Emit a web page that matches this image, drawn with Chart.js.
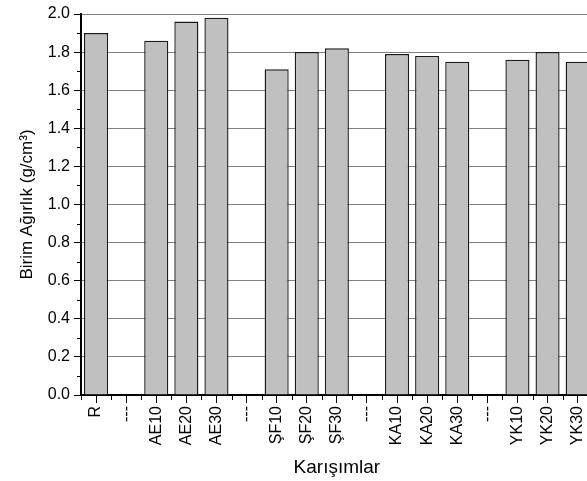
<!DOCTYPE html>
<html>
<head>
<meta charset="utf-8">
<script src="https://cdn.jsdelivr.net/npm/chart.js@4.4.1/dist/chart.umd.min.js"></script>
<style>
  body { margin: 0; overflow: hidden; background: #fff; }
  #caja { width: 587px; height: 481px; overflow: hidden; }
</style>
</head>
<body>
<div id="caja"><canvas id="barChart" width="600" height="481"></canvas></div>
<script>
const categorias = ['R', '---', 'AE10', 'AE20', 'AE30', '---', 'ŞF10', 'ŞF20', 'ŞF30', '---', 'KA10', 'KA20', 'KA30', '---', 'YK10', 'YK20', 'YK30'];
const valores = [1.90, null, 1.86, 1.96, 1.98, null, 1.71, 1.80, 1.82, null, 1.79, 1.78, 1.75, null, 1.76, 1.80, 1.75];
const ticksY = [0.0, 0.2, 0.4, 0.6, 0.8, 1.0, 1.2, 1.4, 1.6, 1.8, 2.0];

const fuente = "Arial, 'Liberation Sans', sans-serif";

// marcas menores de los ejes
const marcasMenores = {
    id: 'marcasMenores',
    afterDraw(chart) {
        const c = chart.ctx;
        const x = chart.scales.x;
        const y = chart.scales.y;
        c.save();
        c.strokeStyle = '#000';
        c.lineWidth = 1;
        c.beginPath();
        for (let i = 0; i < ticksY.length - 1; i++) {
            const py = Math.round(y.getPixelForValue((ticksY[i] + ticksY[i + 1]) / 2)) + 0.5;
            c.moveTo(x.left - 4, py);
            c.lineTo(x.left, py);
        }
        const paso = x.getPixelForValue(1) - x.getPixelForValue(0);
        for (let i = 0; i < categorias.length; i++) {
            const px = Math.round(x.getPixelForValue(i) - paso / 2) + 0.5;
            c.moveTo(px, y.bottom);
            c.lineTo(px, y.bottom + 5);
        }
        c.stroke();
        c.restore();
    }
};

const barChart = new Chart(document.getElementById('barChart').getContext('2d'), {
    type: 'bar',
    data: {
        labels: categorias,
        datasets: [{
            data: valores,
            backgroundColor: '#c0c0c0',
            borderColor: '#1a1a1a',
            borderWidth: 1.4,
            barPercentage: 0.8,
            categoryPercentage: 1.0
        }]
    },
    options: {
        responsive: false,
        animation: false,
        devicePixelRatio: 1,
        layout: { padding: { top: 14, right: 5, left: 0, bottom: 0 } },
        plugins: { legend: { display: false }, tooltip: { enabled: false } },
        scales: {
            x: {
                afterFit: (s) => { s.height = 86; },
                border: { color: '#000', width: 2 },
                grid: { drawOnChartArea: false, offset: false, tickLength: 8, tickColor: '#000' },
                ticks: { color: '#000', font: { family: fuente, size: 16 }, minRotation: 90, maxRotation: 90, padding: 3, autoSkip: false },
                title: { display: true, text: 'Karışımlar', color: '#000', font: { family: fuente, size: 19 }, padding: { top: 0, bottom: 2 } }
            },
            y: {
                min: 0,
                max: 2.0,
                afterFit: (s) => { s.width = 81; },
                afterBuildTicks: (s) => { s.ticks = ticksY.map(v => ({ value: v })); },
                border: { color: '#000', width: 2 },
                grid: { color: '#808080', lineWidth: 1, tickColor: '#000', tickLength: 7 },
                ticks: { color: '#000', font: { family: fuente, size: 16 }, padding: 4, callback: (v) => v.toFixed(1) },
                title: { display: true, text: 'Birim Ağırlık (g/cm³)', color: '#000', font: { family: fuente, size: 17 }, padding: { top: 17, bottom: 0 } }
            }
        }
    },
    plugins: [marcasMenores]
});
</script>
</body>
</html>
